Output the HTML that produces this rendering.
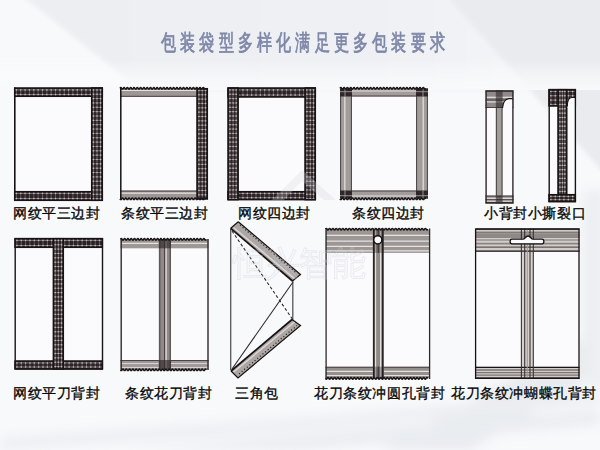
<!DOCTYPE html>
<html><head><meta charset="utf-8">
<style>
html,body{margin:0;padding:0;}
body{width:600px;height:450px;overflow:hidden;position:relative;background:#f6f7f9;font-family:"Liberation Sans",sans-serif;}
.bg{position:absolute;left:0;top:0;}
.t{position:absolute;white-space:nowrap;color:#050505;font-size:13.5px;line-height:14px;letter-spacing:0.6px;-webkit-text-stroke:0.32px #050505;}
.title{position:absolute;left:161px;top:30px;font-size:22px;line-height:25px;color:#7f87a9;white-space:nowrap;letter-spacing:5.95px;transform:scaleX(0.687);transform-origin:0 0;-webkit-text-stroke:0.8px #7f87a9;}
svg.fg{position:absolute;left:0;top:0;}
</style></head>
<body>
<svg class="bg" width="600" height="450" viewBox="0 0 600 450">
<defs><filter id="bl" x="-20%" y="-20%" width="140%" height="140%"><feGaussianBlur stdDeviation="2"/></filter>
<filter id="bl2" x="-20%" y="-20%" width="140%" height="140%"><feGaussianBlur stdDeviation="6"/></filter>
<linearGradient id="g1" x1="0" y1="0" x2="1" y2="0"><stop offset="0" stop-color="#eceef2"/><stop offset="0.75" stop-color="#eff1f4"/><stop offset="1" stop-color="#f4f5f8"/></linearGradient>
<linearGradient id="g2" x1="0" y1="0" x2="0" y2="1"><stop offset="0" stop-color="#ffffff" stop-opacity="0"/><stop offset="1" stop-color="#f8f9fb" stop-opacity="1"/></linearGradient></defs>
<rect width="600" height="450" fill="#f8f9fb"/>
<g filter="url(#bl)">
<polygon points="15,-10 441,-10 535,90 140,90" fill="url(#g1)"/>
<polygon points="441,-10 610,-10 610,180" fill="#e9ebef"/>
</g>
<rect x="0" y="60" width="600" height="30" fill="url(#g2)"/>
<g filter="url(#bl2)">
<polygon points="380,450 600,330 600,372 470,450" fill="#e8ebef"/>
<polygon points="0,438 300,418 600,392 600,404 300,430 0,450" fill="#eceef2"/>
<polygon points="120,450 600,410 600,425 300,450" fill="#eaedf1"/>
<polygon points="583,190 605,190 605,390 583,380" fill="#eceef2"/>
</g>
</svg>
<div class="title">包装袋型多样化满足更多包装要求</div>
<svg class="fg" width="600" height="450" viewBox="0 0 600 450"><rect x="14" y="87.5" width="89" height="113.5" fill="#fbfbfd"/><path d="M14.8 87.5V201" stroke="#171213" stroke-width="1.6" opacity="1"/><rect x="14" y="87.5" width="89" height="9.5" fill="#2a2224"/><path d="M16.4 88.5V96M20.75 88.5V96M25.1 88.5V96M29.45 88.5V96M33.8 88.5V96M38.15 88.5V96M42.5 88.5V96M46.85 88.5V96M51.2 88.5V96M55.55 88.5V96M59.9 88.5V96M64.25 88.5V96M68.6 88.5V96M72.95 88.5V96M77.3 88.5V96M81.65 88.5V96M86 88.5V96M90.35 88.5V96M94.7 88.5V96M99.05 88.5V96" stroke="#a8a0a0" stroke-width="1.0" fill="none" opacity="0.45"/><path d="M15 89.9H102M15 94.5H102" stroke="#a8a0a0" stroke-width="1.0" fill="none" opacity="0.62"/><g fill="#c4bcbc"><rect x="15.75" y="89.25" width="1.3" height="1.3"/><rect x="15.75" y="93.85" width="1.3" height="1.3"/><rect x="20.1" y="89.25" width="1.3" height="1.3"/><rect x="20.1" y="93.85" width="1.3" height="1.3"/><rect x="24.45" y="89.25" width="1.3" height="1.3"/><rect x="24.45" y="93.85" width="1.3" height="1.3"/><rect x="28.8" y="89.25" width="1.3" height="1.3"/><rect x="28.8" y="93.85" width="1.3" height="1.3"/><rect x="33.15" y="89.25" width="1.3" height="1.3"/><rect x="33.15" y="93.85" width="1.3" height="1.3"/><rect x="37.5" y="89.25" width="1.3" height="1.3"/><rect x="37.5" y="93.85" width="1.3" height="1.3"/><rect x="41.85" y="89.25" width="1.3" height="1.3"/><rect x="41.85" y="93.85" width="1.3" height="1.3"/><rect x="46.2" y="89.25" width="1.3" height="1.3"/><rect x="46.2" y="93.85" width="1.3" height="1.3"/><rect x="50.55" y="89.25" width="1.3" height="1.3"/><rect x="50.55" y="93.85" width="1.3" height="1.3"/><rect x="54.9" y="89.25" width="1.3" height="1.3"/><rect x="54.9" y="93.85" width="1.3" height="1.3"/><rect x="59.25" y="89.25" width="1.3" height="1.3"/><rect x="59.25" y="93.85" width="1.3" height="1.3"/><rect x="63.6" y="89.25" width="1.3" height="1.3"/><rect x="63.6" y="93.85" width="1.3" height="1.3"/><rect x="67.95" y="89.25" width="1.3" height="1.3"/><rect x="67.95" y="93.85" width="1.3" height="1.3"/><rect x="72.3" y="89.25" width="1.3" height="1.3"/><rect x="72.3" y="93.85" width="1.3" height="1.3"/><rect x="76.65" y="89.25" width="1.3" height="1.3"/><rect x="76.65" y="93.85" width="1.3" height="1.3"/><rect x="81" y="89.25" width="1.3" height="1.3"/><rect x="81" y="93.85" width="1.3" height="1.3"/><rect x="85.35" y="89.25" width="1.3" height="1.3"/><rect x="85.35" y="93.85" width="1.3" height="1.3"/><rect x="89.7" y="89.25" width="1.3" height="1.3"/><rect x="89.7" y="93.85" width="1.3" height="1.3"/><rect x="94.05" y="89.25" width="1.3" height="1.3"/><rect x="94.05" y="93.85" width="1.3" height="1.3"/><rect x="98.4" y="89.25" width="1.3" height="1.3"/><rect x="98.4" y="93.85" width="1.3" height="1.3"/></g><rect x="14.6" y="88.1" width="87.8" height="8.3" fill="none" stroke="#171213" stroke-width="1.3"/><rect x="14" y="191" width="89" height="10" fill="#2a2224"/><path d="M16.4 192V200M20.75 192V200M25.1 192V200M29.45 192V200M33.8 192V200M38.15 192V200M42.5 192V200M46.85 192V200M51.2 192V200M55.55 192V200M59.9 192V200M64.25 192V200M68.6 192V200M72.95 192V200M77.3 192V200M81.65 192V200M86 192V200M90.35 192V200M94.7 192V200M99.05 192V200" stroke="#a8a0a0" stroke-width="1.0" fill="none" opacity="0.45"/><path d="M15 193.4H102M15 198.5H102" stroke="#a8a0a0" stroke-width="1.0" fill="none" opacity="0.62"/><g fill="#c4bcbc"><rect x="15.75" y="192.75" width="1.3" height="1.3"/><rect x="15.75" y="197.85" width="1.3" height="1.3"/><rect x="20.1" y="192.75" width="1.3" height="1.3"/><rect x="20.1" y="197.85" width="1.3" height="1.3"/><rect x="24.45" y="192.75" width="1.3" height="1.3"/><rect x="24.45" y="197.85" width="1.3" height="1.3"/><rect x="28.8" y="192.75" width="1.3" height="1.3"/><rect x="28.8" y="197.85" width="1.3" height="1.3"/><rect x="33.15" y="192.75" width="1.3" height="1.3"/><rect x="33.15" y="197.85" width="1.3" height="1.3"/><rect x="37.5" y="192.75" width="1.3" height="1.3"/><rect x="37.5" y="197.85" width="1.3" height="1.3"/><rect x="41.85" y="192.75" width="1.3" height="1.3"/><rect x="41.85" y="197.85" width="1.3" height="1.3"/><rect x="46.2" y="192.75" width="1.3" height="1.3"/><rect x="46.2" y="197.85" width="1.3" height="1.3"/><rect x="50.55" y="192.75" width="1.3" height="1.3"/><rect x="50.55" y="197.85" width="1.3" height="1.3"/><rect x="54.9" y="192.75" width="1.3" height="1.3"/><rect x="54.9" y="197.85" width="1.3" height="1.3"/><rect x="59.25" y="192.75" width="1.3" height="1.3"/><rect x="59.25" y="197.85" width="1.3" height="1.3"/><rect x="63.6" y="192.75" width="1.3" height="1.3"/><rect x="63.6" y="197.85" width="1.3" height="1.3"/><rect x="67.95" y="192.75" width="1.3" height="1.3"/><rect x="67.95" y="197.85" width="1.3" height="1.3"/><rect x="72.3" y="192.75" width="1.3" height="1.3"/><rect x="72.3" y="197.85" width="1.3" height="1.3"/><rect x="76.65" y="192.75" width="1.3" height="1.3"/><rect x="76.65" y="197.85" width="1.3" height="1.3"/><rect x="81" y="192.75" width="1.3" height="1.3"/><rect x="81" y="197.85" width="1.3" height="1.3"/><rect x="85.35" y="192.75" width="1.3" height="1.3"/><rect x="85.35" y="197.85" width="1.3" height="1.3"/><rect x="89.7" y="192.75" width="1.3" height="1.3"/><rect x="89.7" y="197.85" width="1.3" height="1.3"/><rect x="94.05" y="192.75" width="1.3" height="1.3"/><rect x="94.05" y="197.85" width="1.3" height="1.3"/><rect x="98.4" y="192.75" width="1.3" height="1.3"/><rect x="98.4" y="197.85" width="1.3" height="1.3"/></g><rect x="14.6" y="191.6" width="87.8" height="8.8" fill="none" stroke="#171213" stroke-width="1.3"/><rect x="91" y="87.5" width="12" height="113.5" fill="#2a2224"/><path d="M93.4 88.5V200M97 88.5V200M100.5 88.5V200" stroke="#a8a0a0" stroke-width="1.0" fill="none" opacity="0.55"/><path d="M92 89.9H102M92 94.25H102M92 98.6H102M92 102.95H102M92 107.3H102M92 111.65H102M92 116H102M92 120.35H102M92 124.7H102M92 129.05H102M92 133.4H102M92 137.75H102M92 142.1H102M92 146.45H102M92 150.8H102M92 155.15H102M92 159.5H102M92 163.85H102M92 168.2H102M92 172.55H102M92 176.9H102M92 181.25H102M92 185.6H102M92 189.95H102M92 194.3H102M92 198.65H102" stroke="#a8a0a0" stroke-width="1.0" fill="none" opacity="0.5"/><g fill="#c4bcbc"><rect x="92.75" y="89.25" width="1.3" height="1.3"/><rect x="92.75" y="93.6" width="1.3" height="1.3"/><rect x="92.75" y="97.95" width="1.3" height="1.3"/><rect x="92.75" y="102.3" width="1.3" height="1.3"/><rect x="92.75" y="106.65" width="1.3" height="1.3"/><rect x="92.75" y="111" width="1.3" height="1.3"/><rect x="92.75" y="115.35" width="1.3" height="1.3"/><rect x="92.75" y="119.7" width="1.3" height="1.3"/><rect x="92.75" y="124.05" width="1.3" height="1.3"/><rect x="92.75" y="128.4" width="1.3" height="1.3"/><rect x="92.75" y="132.75" width="1.3" height="1.3"/><rect x="92.75" y="137.1" width="1.3" height="1.3"/><rect x="92.75" y="141.45" width="1.3" height="1.3"/><rect x="92.75" y="145.8" width="1.3" height="1.3"/><rect x="92.75" y="150.15" width="1.3" height="1.3"/><rect x="92.75" y="154.5" width="1.3" height="1.3"/><rect x="92.75" y="158.85" width="1.3" height="1.3"/><rect x="92.75" y="163.2" width="1.3" height="1.3"/><rect x="92.75" y="167.55" width="1.3" height="1.3"/><rect x="92.75" y="171.9" width="1.3" height="1.3"/><rect x="92.75" y="176.25" width="1.3" height="1.3"/><rect x="92.75" y="180.6" width="1.3" height="1.3"/><rect x="92.75" y="184.95" width="1.3" height="1.3"/><rect x="92.75" y="189.3" width="1.3" height="1.3"/><rect x="92.75" y="193.65" width="1.3" height="1.3"/><rect x="92.75" y="198" width="1.3" height="1.3"/><rect x="96.35" y="89.25" width="1.3" height="1.3"/><rect x="96.35" y="93.6" width="1.3" height="1.3"/><rect x="96.35" y="97.95" width="1.3" height="1.3"/><rect x="96.35" y="102.3" width="1.3" height="1.3"/><rect x="96.35" y="106.65" width="1.3" height="1.3"/><rect x="96.35" y="111" width="1.3" height="1.3"/><rect x="96.35" y="115.35" width="1.3" height="1.3"/><rect x="96.35" y="119.7" width="1.3" height="1.3"/><rect x="96.35" y="124.05" width="1.3" height="1.3"/><rect x="96.35" y="128.4" width="1.3" height="1.3"/><rect x="96.35" y="132.75" width="1.3" height="1.3"/><rect x="96.35" y="137.1" width="1.3" height="1.3"/><rect x="96.35" y="141.45" width="1.3" height="1.3"/><rect x="96.35" y="145.8" width="1.3" height="1.3"/><rect x="96.35" y="150.15" width="1.3" height="1.3"/><rect x="96.35" y="154.5" width="1.3" height="1.3"/><rect x="96.35" y="158.85" width="1.3" height="1.3"/><rect x="96.35" y="163.2" width="1.3" height="1.3"/><rect x="96.35" y="167.55" width="1.3" height="1.3"/><rect x="96.35" y="171.9" width="1.3" height="1.3"/><rect x="96.35" y="176.25" width="1.3" height="1.3"/><rect x="96.35" y="180.6" width="1.3" height="1.3"/><rect x="96.35" y="184.95" width="1.3" height="1.3"/><rect x="96.35" y="189.3" width="1.3" height="1.3"/><rect x="96.35" y="193.65" width="1.3" height="1.3"/><rect x="96.35" y="198" width="1.3" height="1.3"/><rect x="99.85" y="89.25" width="1.3" height="1.3"/><rect x="99.85" y="93.6" width="1.3" height="1.3"/><rect x="99.85" y="97.95" width="1.3" height="1.3"/><rect x="99.85" y="102.3" width="1.3" height="1.3"/><rect x="99.85" y="106.65" width="1.3" height="1.3"/><rect x="99.85" y="111" width="1.3" height="1.3"/><rect x="99.85" y="115.35" width="1.3" height="1.3"/><rect x="99.85" y="119.7" width="1.3" height="1.3"/><rect x="99.85" y="124.05" width="1.3" height="1.3"/><rect x="99.85" y="128.4" width="1.3" height="1.3"/><rect x="99.85" y="132.75" width="1.3" height="1.3"/><rect x="99.85" y="137.1" width="1.3" height="1.3"/><rect x="99.85" y="141.45" width="1.3" height="1.3"/><rect x="99.85" y="145.8" width="1.3" height="1.3"/><rect x="99.85" y="150.15" width="1.3" height="1.3"/><rect x="99.85" y="154.5" width="1.3" height="1.3"/><rect x="99.85" y="158.85" width="1.3" height="1.3"/><rect x="99.85" y="163.2" width="1.3" height="1.3"/><rect x="99.85" y="167.55" width="1.3" height="1.3"/><rect x="99.85" y="171.9" width="1.3" height="1.3"/><rect x="99.85" y="176.25" width="1.3" height="1.3"/><rect x="99.85" y="180.6" width="1.3" height="1.3"/><rect x="99.85" y="184.95" width="1.3" height="1.3"/><rect x="99.85" y="189.3" width="1.3" height="1.3"/><rect x="99.85" y="193.65" width="1.3" height="1.3"/><rect x="99.85" y="198" width="1.3" height="1.3"/></g><rect x="91.6" y="88.1" width="10.8" height="112.3" fill="none" stroke="#171213" stroke-width="1.3"/><rect x="120" y="88" width="88" height="111.5" fill="#fbfbfd"/><rect x="120" y="88.5" width="77" height="8.5" fill="#9c9694"/><path d="M120 90.5H197" stroke="#e6e2e2" stroke-width="1.2" opacity="1"/><path d="M120 96.3H197" stroke="#4a4244" stroke-width="1.0" opacity="1"/><rect x="120" y="190.5" width="77" height="8.5" fill="#9c9694"/><path d="M120 193.1H197" stroke="#e6e2e2" stroke-width="1.2" opacity="1"/><path d="M120 191.1H197" stroke="#4a4244" stroke-width="1.0" opacity="1"/><path d="M120.8 88V199.5" stroke="#171213" stroke-width="1.5" opacity="1"/><rect x="196.5" y="88" width="11.5" height="111.5" fill="#2a2224"/><path d="M198.9 89V198.5M202.25 89V198.5M205.5 89V198.5" stroke="#a8a0a0" stroke-width="1.0" fill="none" opacity="0.55"/><path d="M197.5 90.4H207M197.5 94.75H207M197.5 99.1H207M197.5 103.45H207M197.5 107.8H207M197.5 112.15H207M197.5 116.5H207M197.5 120.85H207M197.5 125.2H207M197.5 129.55H207M197.5 133.9H207M197.5 138.25H207M197.5 142.6H207M197.5 146.95H207M197.5 151.3H207M197.5 155.65H207M197.5 160H207M197.5 164.35H207M197.5 168.7H207M197.5 173.05H207M197.5 177.4H207M197.5 181.75H207M197.5 186.1H207M197.5 190.45H207M197.5 194.8H207" stroke="#a8a0a0" stroke-width="1.0" fill="none" opacity="0.5"/><g fill="#c4bcbc"><rect x="198.25" y="89.75" width="1.3" height="1.3"/><rect x="198.25" y="94.1" width="1.3" height="1.3"/><rect x="198.25" y="98.45" width="1.3" height="1.3"/><rect x="198.25" y="102.8" width="1.3" height="1.3"/><rect x="198.25" y="107.15" width="1.3" height="1.3"/><rect x="198.25" y="111.5" width="1.3" height="1.3"/><rect x="198.25" y="115.85" width="1.3" height="1.3"/><rect x="198.25" y="120.2" width="1.3" height="1.3"/><rect x="198.25" y="124.55" width="1.3" height="1.3"/><rect x="198.25" y="128.9" width="1.3" height="1.3"/><rect x="198.25" y="133.25" width="1.3" height="1.3"/><rect x="198.25" y="137.6" width="1.3" height="1.3"/><rect x="198.25" y="141.95" width="1.3" height="1.3"/><rect x="198.25" y="146.3" width="1.3" height="1.3"/><rect x="198.25" y="150.65" width="1.3" height="1.3"/><rect x="198.25" y="155" width="1.3" height="1.3"/><rect x="198.25" y="159.35" width="1.3" height="1.3"/><rect x="198.25" y="163.7" width="1.3" height="1.3"/><rect x="198.25" y="168.05" width="1.3" height="1.3"/><rect x="198.25" y="172.4" width="1.3" height="1.3"/><rect x="198.25" y="176.75" width="1.3" height="1.3"/><rect x="198.25" y="181.1" width="1.3" height="1.3"/><rect x="198.25" y="185.45" width="1.3" height="1.3"/><rect x="198.25" y="189.8" width="1.3" height="1.3"/><rect x="198.25" y="194.15" width="1.3" height="1.3"/><rect x="201.6" y="89.75" width="1.3" height="1.3"/><rect x="201.6" y="94.1" width="1.3" height="1.3"/><rect x="201.6" y="98.45" width="1.3" height="1.3"/><rect x="201.6" y="102.8" width="1.3" height="1.3"/><rect x="201.6" y="107.15" width="1.3" height="1.3"/><rect x="201.6" y="111.5" width="1.3" height="1.3"/><rect x="201.6" y="115.85" width="1.3" height="1.3"/><rect x="201.6" y="120.2" width="1.3" height="1.3"/><rect x="201.6" y="124.55" width="1.3" height="1.3"/><rect x="201.6" y="128.9" width="1.3" height="1.3"/><rect x="201.6" y="133.25" width="1.3" height="1.3"/><rect x="201.6" y="137.6" width="1.3" height="1.3"/><rect x="201.6" y="141.95" width="1.3" height="1.3"/><rect x="201.6" y="146.3" width="1.3" height="1.3"/><rect x="201.6" y="150.65" width="1.3" height="1.3"/><rect x="201.6" y="155" width="1.3" height="1.3"/><rect x="201.6" y="159.35" width="1.3" height="1.3"/><rect x="201.6" y="163.7" width="1.3" height="1.3"/><rect x="201.6" y="168.05" width="1.3" height="1.3"/><rect x="201.6" y="172.4" width="1.3" height="1.3"/><rect x="201.6" y="176.75" width="1.3" height="1.3"/><rect x="201.6" y="181.1" width="1.3" height="1.3"/><rect x="201.6" y="185.45" width="1.3" height="1.3"/><rect x="201.6" y="189.8" width="1.3" height="1.3"/><rect x="201.6" y="194.15" width="1.3" height="1.3"/><rect x="204.85" y="89.75" width="1.3" height="1.3"/><rect x="204.85" y="94.1" width="1.3" height="1.3"/><rect x="204.85" y="98.45" width="1.3" height="1.3"/><rect x="204.85" y="102.8" width="1.3" height="1.3"/><rect x="204.85" y="107.15" width="1.3" height="1.3"/><rect x="204.85" y="111.5" width="1.3" height="1.3"/><rect x="204.85" y="115.85" width="1.3" height="1.3"/><rect x="204.85" y="120.2" width="1.3" height="1.3"/><rect x="204.85" y="124.55" width="1.3" height="1.3"/><rect x="204.85" y="128.9" width="1.3" height="1.3"/><rect x="204.85" y="133.25" width="1.3" height="1.3"/><rect x="204.85" y="137.6" width="1.3" height="1.3"/><rect x="204.85" y="141.95" width="1.3" height="1.3"/><rect x="204.85" y="146.3" width="1.3" height="1.3"/><rect x="204.85" y="150.65" width="1.3" height="1.3"/><rect x="204.85" y="155" width="1.3" height="1.3"/><rect x="204.85" y="159.35" width="1.3" height="1.3"/><rect x="204.85" y="163.7" width="1.3" height="1.3"/><rect x="204.85" y="168.05" width="1.3" height="1.3"/><rect x="204.85" y="172.4" width="1.3" height="1.3"/><rect x="204.85" y="176.75" width="1.3" height="1.3"/><rect x="204.85" y="181.1" width="1.3" height="1.3"/><rect x="204.85" y="185.45" width="1.3" height="1.3"/><rect x="204.85" y="189.8" width="1.3" height="1.3"/><rect x="204.85" y="194.15" width="1.3" height="1.3"/></g><rect x="197.1" y="88.6" width="10.3" height="110.3" fill="none" stroke="#171213" stroke-width="1.3"/><path d="M120 88.3Q120.83 86.7 121.65 88.3T123.3 88.3Q124.12 86.7 124.95 88.3T126.6 88.3Q127.42 86.7 128.25 88.3T129.9 88.3Q130.72 86.7 131.55 88.3T133.2 88.3Q134.03 86.7 134.85 88.3T136.5 88.3Q137.33 86.7 138.15 88.3T139.8 88.3Q140.63 86.7 141.45 88.3T143.1 88.3Q143.93 86.7 144.75 88.3T146.4 88.3Q147.23 86.7 148.05 88.3T149.7 88.3Q150.53 86.7 151.35 88.3T153 88.3Q153.83 86.7 154.65 88.3T156.3 88.3Q157.13 86.7 157.95 88.3T159.6 88.3Q160.43 86.7 161.25 88.3T162.9 88.3Q163.73 86.7 164.55 88.3T166.2 88.3Q167.03 86.7 167.85 88.3T169.5 88.3Q170.33 86.7 171.15 88.3T172.8 88.3Q173.63 86.7 174.45 88.3T176.1 88.3Q176.93 86.7 177.75 88.3T179.4 88.3Q180.23 86.7 181.05 88.3T182.7 88.3Q183.53 86.7 184.35 88.3T186 88.3Q186.83 86.7 187.65 88.3T189.3 88.3Q190.13 86.7 190.95 88.3T192.6 88.3Q193.43 86.7 194.25 88.3T195.9 88.3Q196.73 86.7 197.55 88.3T199.2 88.3Q200.03 86.7 200.85 88.3T202.5 88.3Q203.33 86.7 204.15 88.3T205.8 88.3" stroke="#1a1516" stroke-width="1.5" fill="none"/><path d="M120 198.8Q120.83 200.4 121.65 198.8T123.3 198.8Q124.12 200.4 124.95 198.8T126.6 198.8Q127.42 200.4 128.25 198.8T129.9 198.8Q130.72 200.4 131.55 198.8T133.2 198.8Q134.03 200.4 134.85 198.8T136.5 198.8Q137.33 200.4 138.15 198.8T139.8 198.8Q140.63 200.4 141.45 198.8T143.1 198.8Q143.93 200.4 144.75 198.8T146.4 198.8Q147.23 200.4 148.05 198.8T149.7 198.8Q150.53 200.4 151.35 198.8T153 198.8Q153.83 200.4 154.65 198.8T156.3 198.8Q157.13 200.4 157.95 198.8T159.6 198.8Q160.43 200.4 161.25 198.8T162.9 198.8Q163.73 200.4 164.55 198.8T166.2 198.8Q167.03 200.4 167.85 198.8T169.5 198.8Q170.33 200.4 171.15 198.8T172.8 198.8Q173.63 200.4 174.45 198.8T176.1 198.8Q176.93 200.4 177.75 198.8T179.4 198.8Q180.23 200.4 181.05 198.8T182.7 198.8Q183.53 200.4 184.35 198.8T186 198.8Q186.83 200.4 187.65 198.8T189.3 198.8Q190.13 200.4 190.95 198.8T192.6 198.8Q193.43 200.4 194.25 198.8T195.9 198.8Q196.73 200.4 197.55 198.8T199.2 198.8Q200.03 200.4 200.85 198.8T202.5 198.8Q203.33 200.4 204.15 198.8T205.8 198.8" stroke="#1a1516" stroke-width="1.5" fill="none"/><rect x="227.5" y="87.5" width="88.5" height="112.5" fill="#fbfbfd"/><rect x="227.5" y="87.5" width="88.5" height="10" fill="#2a2224"/><path d="M229.9 88.5V96.5M234.25 88.5V96.5M238.6 88.5V96.5M242.95 88.5V96.5M247.3 88.5V96.5M251.65 88.5V96.5M256 88.5V96.5M260.35 88.5V96.5M264.7 88.5V96.5M269.05 88.5V96.5M273.4 88.5V96.5M277.75 88.5V96.5M282.1 88.5V96.5M286.45 88.5V96.5M290.8 88.5V96.5M295.15 88.5V96.5M299.5 88.5V96.5M303.85 88.5V96.5M308.2 88.5V96.5M312.55 88.5V96.5" stroke="#a8a0a0" stroke-width="1.0" fill="none" opacity="0.45"/><path d="M228.5 89.9H315M228.5 95H315" stroke="#a8a0a0" stroke-width="1.0" fill="none" opacity="0.62"/><g fill="#c4bcbc"><rect x="229.25" y="89.25" width="1.3" height="1.3"/><rect x="229.25" y="94.35" width="1.3" height="1.3"/><rect x="233.6" y="89.25" width="1.3" height="1.3"/><rect x="233.6" y="94.35" width="1.3" height="1.3"/><rect x="237.95" y="89.25" width="1.3" height="1.3"/><rect x="237.95" y="94.35" width="1.3" height="1.3"/><rect x="242.3" y="89.25" width="1.3" height="1.3"/><rect x="242.3" y="94.35" width="1.3" height="1.3"/><rect x="246.65" y="89.25" width="1.3" height="1.3"/><rect x="246.65" y="94.35" width="1.3" height="1.3"/><rect x="251" y="89.25" width="1.3" height="1.3"/><rect x="251" y="94.35" width="1.3" height="1.3"/><rect x="255.35" y="89.25" width="1.3" height="1.3"/><rect x="255.35" y="94.35" width="1.3" height="1.3"/><rect x="259.7" y="89.25" width="1.3" height="1.3"/><rect x="259.7" y="94.35" width="1.3" height="1.3"/><rect x="264.05" y="89.25" width="1.3" height="1.3"/><rect x="264.05" y="94.35" width="1.3" height="1.3"/><rect x="268.4" y="89.25" width="1.3" height="1.3"/><rect x="268.4" y="94.35" width="1.3" height="1.3"/><rect x="272.75" y="89.25" width="1.3" height="1.3"/><rect x="272.75" y="94.35" width="1.3" height="1.3"/><rect x="277.1" y="89.25" width="1.3" height="1.3"/><rect x="277.1" y="94.35" width="1.3" height="1.3"/><rect x="281.45" y="89.25" width="1.3" height="1.3"/><rect x="281.45" y="94.35" width="1.3" height="1.3"/><rect x="285.8" y="89.25" width="1.3" height="1.3"/><rect x="285.8" y="94.35" width="1.3" height="1.3"/><rect x="290.15" y="89.25" width="1.3" height="1.3"/><rect x="290.15" y="94.35" width="1.3" height="1.3"/><rect x="294.5" y="89.25" width="1.3" height="1.3"/><rect x="294.5" y="94.35" width="1.3" height="1.3"/><rect x="298.85" y="89.25" width="1.3" height="1.3"/><rect x="298.85" y="94.35" width="1.3" height="1.3"/><rect x="303.2" y="89.25" width="1.3" height="1.3"/><rect x="303.2" y="94.35" width="1.3" height="1.3"/><rect x="307.55" y="89.25" width="1.3" height="1.3"/><rect x="307.55" y="94.35" width="1.3" height="1.3"/><rect x="311.9" y="89.25" width="1.3" height="1.3"/><rect x="311.9" y="94.35" width="1.3" height="1.3"/></g><rect x="228.1" y="88.1" width="87.3" height="8.8" fill="none" stroke="#171213" stroke-width="1.3"/><rect x="227.5" y="191" width="88.5" height="9.2" fill="#2a2224"/><path d="M229.9 192V199.2M234.25 192V199.2M238.6 192V199.2M242.95 192V199.2M247.3 192V199.2M251.65 192V199.2M256 192V199.2M260.35 192V199.2M264.7 192V199.2M269.05 192V199.2M273.4 192V199.2M277.75 192V199.2M282.1 192V199.2M286.45 192V199.2M290.8 192V199.2M295.15 192V199.2M299.5 192V199.2M303.85 192V199.2M308.2 192V199.2M312.55 192V199.2" stroke="#a8a0a0" stroke-width="1.0" fill="none" opacity="0.45"/><path d="M228.5 193.4H315M228.5 197.7H315" stroke="#a8a0a0" stroke-width="1.0" fill="none" opacity="0.62"/><g fill="#c4bcbc"><rect x="229.25" y="192.75" width="1.3" height="1.3"/><rect x="229.25" y="197.05" width="1.3" height="1.3"/><rect x="233.6" y="192.75" width="1.3" height="1.3"/><rect x="233.6" y="197.05" width="1.3" height="1.3"/><rect x="237.95" y="192.75" width="1.3" height="1.3"/><rect x="237.95" y="197.05" width="1.3" height="1.3"/><rect x="242.3" y="192.75" width="1.3" height="1.3"/><rect x="242.3" y="197.05" width="1.3" height="1.3"/><rect x="246.65" y="192.75" width="1.3" height="1.3"/><rect x="246.65" y="197.05" width="1.3" height="1.3"/><rect x="251" y="192.75" width="1.3" height="1.3"/><rect x="251" y="197.05" width="1.3" height="1.3"/><rect x="255.35" y="192.75" width="1.3" height="1.3"/><rect x="255.35" y="197.05" width="1.3" height="1.3"/><rect x="259.7" y="192.75" width="1.3" height="1.3"/><rect x="259.7" y="197.05" width="1.3" height="1.3"/><rect x="264.05" y="192.75" width="1.3" height="1.3"/><rect x="264.05" y="197.05" width="1.3" height="1.3"/><rect x="268.4" y="192.75" width="1.3" height="1.3"/><rect x="268.4" y="197.05" width="1.3" height="1.3"/><rect x="272.75" y="192.75" width="1.3" height="1.3"/><rect x="272.75" y="197.05" width="1.3" height="1.3"/><rect x="277.1" y="192.75" width="1.3" height="1.3"/><rect x="277.1" y="197.05" width="1.3" height="1.3"/><rect x="281.45" y="192.75" width="1.3" height="1.3"/><rect x="281.45" y="197.05" width="1.3" height="1.3"/><rect x="285.8" y="192.75" width="1.3" height="1.3"/><rect x="285.8" y="197.05" width="1.3" height="1.3"/><rect x="290.15" y="192.75" width="1.3" height="1.3"/><rect x="290.15" y="197.05" width="1.3" height="1.3"/><rect x="294.5" y="192.75" width="1.3" height="1.3"/><rect x="294.5" y="197.05" width="1.3" height="1.3"/><rect x="298.85" y="192.75" width="1.3" height="1.3"/><rect x="298.85" y="197.05" width="1.3" height="1.3"/><rect x="303.2" y="192.75" width="1.3" height="1.3"/><rect x="303.2" y="197.05" width="1.3" height="1.3"/><rect x="307.55" y="192.75" width="1.3" height="1.3"/><rect x="307.55" y="197.05" width="1.3" height="1.3"/><rect x="311.9" y="192.75" width="1.3" height="1.3"/><rect x="311.9" y="197.05" width="1.3" height="1.3"/></g><rect x="228.1" y="191.6" width="87.3" height="8" fill="none" stroke="#171213" stroke-width="1.3"/><rect x="227.5" y="87.5" width="11.2" height="112.7" fill="#2a2224"/><path d="M229.9 88.5V199.2M233.1 88.5V199.2M236.2 88.5V199.2" stroke="#a8a0a0" stroke-width="1.0" fill="none" opacity="0.55"/><path d="M228.5 89.9H237.7M228.5 94.25H237.7M228.5 98.6H237.7M228.5 102.95H237.7M228.5 107.3H237.7M228.5 111.65H237.7M228.5 116H237.7M228.5 120.35H237.7M228.5 124.7H237.7M228.5 129.05H237.7M228.5 133.4H237.7M228.5 137.75H237.7M228.5 142.1H237.7M228.5 146.45H237.7M228.5 150.8H237.7M228.5 155.15H237.7M228.5 159.5H237.7M228.5 163.85H237.7M228.5 168.2H237.7M228.5 172.55H237.7M228.5 176.9H237.7M228.5 181.25H237.7M228.5 185.6H237.7M228.5 189.95H237.7M228.5 194.3H237.7M228.5 198.65H237.7" stroke="#a8a0a0" stroke-width="1.0" fill="none" opacity="0.5"/><g fill="#c4bcbc"><rect x="229.25" y="89.25" width="1.3" height="1.3"/><rect x="229.25" y="93.6" width="1.3" height="1.3"/><rect x="229.25" y="97.95" width="1.3" height="1.3"/><rect x="229.25" y="102.3" width="1.3" height="1.3"/><rect x="229.25" y="106.65" width="1.3" height="1.3"/><rect x="229.25" y="111" width="1.3" height="1.3"/><rect x="229.25" y="115.35" width="1.3" height="1.3"/><rect x="229.25" y="119.7" width="1.3" height="1.3"/><rect x="229.25" y="124.05" width="1.3" height="1.3"/><rect x="229.25" y="128.4" width="1.3" height="1.3"/><rect x="229.25" y="132.75" width="1.3" height="1.3"/><rect x="229.25" y="137.1" width="1.3" height="1.3"/><rect x="229.25" y="141.45" width="1.3" height="1.3"/><rect x="229.25" y="145.8" width="1.3" height="1.3"/><rect x="229.25" y="150.15" width="1.3" height="1.3"/><rect x="229.25" y="154.5" width="1.3" height="1.3"/><rect x="229.25" y="158.85" width="1.3" height="1.3"/><rect x="229.25" y="163.2" width="1.3" height="1.3"/><rect x="229.25" y="167.55" width="1.3" height="1.3"/><rect x="229.25" y="171.9" width="1.3" height="1.3"/><rect x="229.25" y="176.25" width="1.3" height="1.3"/><rect x="229.25" y="180.6" width="1.3" height="1.3"/><rect x="229.25" y="184.95" width="1.3" height="1.3"/><rect x="229.25" y="189.3" width="1.3" height="1.3"/><rect x="229.25" y="193.65" width="1.3" height="1.3"/><rect x="229.25" y="198" width="1.3" height="1.3"/><rect x="232.45" y="89.25" width="1.3" height="1.3"/><rect x="232.45" y="93.6" width="1.3" height="1.3"/><rect x="232.45" y="97.95" width="1.3" height="1.3"/><rect x="232.45" y="102.3" width="1.3" height="1.3"/><rect x="232.45" y="106.65" width="1.3" height="1.3"/><rect x="232.45" y="111" width="1.3" height="1.3"/><rect x="232.45" y="115.35" width="1.3" height="1.3"/><rect x="232.45" y="119.7" width="1.3" height="1.3"/><rect x="232.45" y="124.05" width="1.3" height="1.3"/><rect x="232.45" y="128.4" width="1.3" height="1.3"/><rect x="232.45" y="132.75" width="1.3" height="1.3"/><rect x="232.45" y="137.1" width="1.3" height="1.3"/><rect x="232.45" y="141.45" width="1.3" height="1.3"/><rect x="232.45" y="145.8" width="1.3" height="1.3"/><rect x="232.45" y="150.15" width="1.3" height="1.3"/><rect x="232.45" y="154.5" width="1.3" height="1.3"/><rect x="232.45" y="158.85" width="1.3" height="1.3"/><rect x="232.45" y="163.2" width="1.3" height="1.3"/><rect x="232.45" y="167.55" width="1.3" height="1.3"/><rect x="232.45" y="171.9" width="1.3" height="1.3"/><rect x="232.45" y="176.25" width="1.3" height="1.3"/><rect x="232.45" y="180.6" width="1.3" height="1.3"/><rect x="232.45" y="184.95" width="1.3" height="1.3"/><rect x="232.45" y="189.3" width="1.3" height="1.3"/><rect x="232.45" y="193.65" width="1.3" height="1.3"/><rect x="232.45" y="198" width="1.3" height="1.3"/><rect x="235.55" y="89.25" width="1.3" height="1.3"/><rect x="235.55" y="93.6" width="1.3" height="1.3"/><rect x="235.55" y="97.95" width="1.3" height="1.3"/><rect x="235.55" y="102.3" width="1.3" height="1.3"/><rect x="235.55" y="106.65" width="1.3" height="1.3"/><rect x="235.55" y="111" width="1.3" height="1.3"/><rect x="235.55" y="115.35" width="1.3" height="1.3"/><rect x="235.55" y="119.7" width="1.3" height="1.3"/><rect x="235.55" y="124.05" width="1.3" height="1.3"/><rect x="235.55" y="128.4" width="1.3" height="1.3"/><rect x="235.55" y="132.75" width="1.3" height="1.3"/><rect x="235.55" y="137.1" width="1.3" height="1.3"/><rect x="235.55" y="141.45" width="1.3" height="1.3"/><rect x="235.55" y="145.8" width="1.3" height="1.3"/><rect x="235.55" y="150.15" width="1.3" height="1.3"/><rect x="235.55" y="154.5" width="1.3" height="1.3"/><rect x="235.55" y="158.85" width="1.3" height="1.3"/><rect x="235.55" y="163.2" width="1.3" height="1.3"/><rect x="235.55" y="167.55" width="1.3" height="1.3"/><rect x="235.55" y="171.9" width="1.3" height="1.3"/><rect x="235.55" y="176.25" width="1.3" height="1.3"/><rect x="235.55" y="180.6" width="1.3" height="1.3"/><rect x="235.55" y="184.95" width="1.3" height="1.3"/><rect x="235.55" y="189.3" width="1.3" height="1.3"/><rect x="235.55" y="193.65" width="1.3" height="1.3"/><rect x="235.55" y="198" width="1.3" height="1.3"/></g><rect x="228.1" y="88.1" width="10" height="111.5" fill="none" stroke="#171213" stroke-width="1.3"/><rect x="304.5" y="87.5" width="11.5" height="112.7" fill="#2a2224"/><path d="M306.9 88.5V199.2M310.25 88.5V199.2M313.5 88.5V199.2" stroke="#a8a0a0" stroke-width="1.0" fill="none" opacity="0.55"/><path d="M305.5 89.9H315M305.5 94.25H315M305.5 98.6H315M305.5 102.95H315M305.5 107.3H315M305.5 111.65H315M305.5 116H315M305.5 120.35H315M305.5 124.7H315M305.5 129.05H315M305.5 133.4H315M305.5 137.75H315M305.5 142.1H315M305.5 146.45H315M305.5 150.8H315M305.5 155.15H315M305.5 159.5H315M305.5 163.85H315M305.5 168.2H315M305.5 172.55H315M305.5 176.9H315M305.5 181.25H315M305.5 185.6H315M305.5 189.95H315M305.5 194.3H315M305.5 198.65H315" stroke="#a8a0a0" stroke-width="1.0" fill="none" opacity="0.5"/><g fill="#c4bcbc"><rect x="306.25" y="89.25" width="1.3" height="1.3"/><rect x="306.25" y="93.6" width="1.3" height="1.3"/><rect x="306.25" y="97.95" width="1.3" height="1.3"/><rect x="306.25" y="102.3" width="1.3" height="1.3"/><rect x="306.25" y="106.65" width="1.3" height="1.3"/><rect x="306.25" y="111" width="1.3" height="1.3"/><rect x="306.25" y="115.35" width="1.3" height="1.3"/><rect x="306.25" y="119.7" width="1.3" height="1.3"/><rect x="306.25" y="124.05" width="1.3" height="1.3"/><rect x="306.25" y="128.4" width="1.3" height="1.3"/><rect x="306.25" y="132.75" width="1.3" height="1.3"/><rect x="306.25" y="137.1" width="1.3" height="1.3"/><rect x="306.25" y="141.45" width="1.3" height="1.3"/><rect x="306.25" y="145.8" width="1.3" height="1.3"/><rect x="306.25" y="150.15" width="1.3" height="1.3"/><rect x="306.25" y="154.5" width="1.3" height="1.3"/><rect x="306.25" y="158.85" width="1.3" height="1.3"/><rect x="306.25" y="163.2" width="1.3" height="1.3"/><rect x="306.25" y="167.55" width="1.3" height="1.3"/><rect x="306.25" y="171.9" width="1.3" height="1.3"/><rect x="306.25" y="176.25" width="1.3" height="1.3"/><rect x="306.25" y="180.6" width="1.3" height="1.3"/><rect x="306.25" y="184.95" width="1.3" height="1.3"/><rect x="306.25" y="189.3" width="1.3" height="1.3"/><rect x="306.25" y="193.65" width="1.3" height="1.3"/><rect x="306.25" y="198" width="1.3" height="1.3"/><rect x="309.6" y="89.25" width="1.3" height="1.3"/><rect x="309.6" y="93.6" width="1.3" height="1.3"/><rect x="309.6" y="97.95" width="1.3" height="1.3"/><rect x="309.6" y="102.3" width="1.3" height="1.3"/><rect x="309.6" y="106.65" width="1.3" height="1.3"/><rect x="309.6" y="111" width="1.3" height="1.3"/><rect x="309.6" y="115.35" width="1.3" height="1.3"/><rect x="309.6" y="119.7" width="1.3" height="1.3"/><rect x="309.6" y="124.05" width="1.3" height="1.3"/><rect x="309.6" y="128.4" width="1.3" height="1.3"/><rect x="309.6" y="132.75" width="1.3" height="1.3"/><rect x="309.6" y="137.1" width="1.3" height="1.3"/><rect x="309.6" y="141.45" width="1.3" height="1.3"/><rect x="309.6" y="145.8" width="1.3" height="1.3"/><rect x="309.6" y="150.15" width="1.3" height="1.3"/><rect x="309.6" y="154.5" width="1.3" height="1.3"/><rect x="309.6" y="158.85" width="1.3" height="1.3"/><rect x="309.6" y="163.2" width="1.3" height="1.3"/><rect x="309.6" y="167.55" width="1.3" height="1.3"/><rect x="309.6" y="171.9" width="1.3" height="1.3"/><rect x="309.6" y="176.25" width="1.3" height="1.3"/><rect x="309.6" y="180.6" width="1.3" height="1.3"/><rect x="309.6" y="184.95" width="1.3" height="1.3"/><rect x="309.6" y="189.3" width="1.3" height="1.3"/><rect x="309.6" y="193.65" width="1.3" height="1.3"/><rect x="309.6" y="198" width="1.3" height="1.3"/><rect x="312.85" y="89.25" width="1.3" height="1.3"/><rect x="312.85" y="93.6" width="1.3" height="1.3"/><rect x="312.85" y="97.95" width="1.3" height="1.3"/><rect x="312.85" y="102.3" width="1.3" height="1.3"/><rect x="312.85" y="106.65" width="1.3" height="1.3"/><rect x="312.85" y="111" width="1.3" height="1.3"/><rect x="312.85" y="115.35" width="1.3" height="1.3"/><rect x="312.85" y="119.7" width="1.3" height="1.3"/><rect x="312.85" y="124.05" width="1.3" height="1.3"/><rect x="312.85" y="128.4" width="1.3" height="1.3"/><rect x="312.85" y="132.75" width="1.3" height="1.3"/><rect x="312.85" y="137.1" width="1.3" height="1.3"/><rect x="312.85" y="141.45" width="1.3" height="1.3"/><rect x="312.85" y="145.8" width="1.3" height="1.3"/><rect x="312.85" y="150.15" width="1.3" height="1.3"/><rect x="312.85" y="154.5" width="1.3" height="1.3"/><rect x="312.85" y="158.85" width="1.3" height="1.3"/><rect x="312.85" y="163.2" width="1.3" height="1.3"/><rect x="312.85" y="167.55" width="1.3" height="1.3"/><rect x="312.85" y="171.9" width="1.3" height="1.3"/><rect x="312.85" y="176.25" width="1.3" height="1.3"/><rect x="312.85" y="180.6" width="1.3" height="1.3"/><rect x="312.85" y="184.95" width="1.3" height="1.3"/><rect x="312.85" y="189.3" width="1.3" height="1.3"/><rect x="312.85" y="193.65" width="1.3" height="1.3"/><rect x="312.85" y="198" width="1.3" height="1.3"/></g><rect x="305.1" y="88.1" width="10.3" height="111.5" fill="none" stroke="#171213" stroke-width="1.3"/><rect x="340" y="88" width="88" height="111.5" fill="#fbfbfd"/><rect x="340" y="88.5" width="12" height="110" fill="#a29c9a"/><path d="M344.8 88.5V198.5" stroke="#e6e2e2" stroke-width="1.2" opacity="1"/><path d="M340.6 88.5V198.5" stroke="#4a4244" stroke-width="1.0" opacity="1"/><path d="M351.4 88.5V198.5" stroke="#4a4244" stroke-width="1.0" opacity="1"/><rect x="416" y="88.5" width="12" height="110" fill="#a29c9a"/><path d="M423.2 88.5V198.5" stroke="#e6e2e2" stroke-width="1.2" opacity="1"/><path d="M416.6 88.5V198.5" stroke="#4a4244" stroke-width="1.0" opacity="1"/><path d="M427.4 88.5V198.5" stroke="#4a4244" stroke-width="1.0" opacity="1"/><rect x="352" y="88.5" width="64" height="8" fill="#a29c9a"/><path d="M352 91H416" stroke="#e6e2e2" stroke-width="1.2" opacity="1"/><path d="M352 96H416" stroke="#4a4244" stroke-width="1.0" opacity="1"/><rect x="352" y="190.5" width="64" height="8" fill="#a29c9a"/><path d="M352 196H416" stroke="#e6e2e2" stroke-width="1.2" opacity="1"/><path d="M352 191H416" stroke="#4a4244" stroke-width="1.0" opacity="1"/><rect x="340" y="88.5" width="12" height="8" fill="#2e2628"/><path d="M340 91.7H352" stroke="#a29a9a" stroke-width="0.9" opacity="1"/><path d="M345 88.5V96.5" stroke="#a29a9a" stroke-width="0.9" opacity="1"/><rect x="416" y="88.5" width="12" height="8" fill="#2e2628"/><path d="M416 91.7H428" stroke="#a29a9a" stroke-width="0.9" opacity="1"/><path d="M423 88.5V96.5" stroke="#a29a9a" stroke-width="0.9" opacity="1"/><rect x="340" y="190.5" width="12" height="8" fill="#2e2628"/><path d="M340 195.7H352" stroke="#a29a9a" stroke-width="0.9" opacity="1"/><path d="M345 190.5V198.5" stroke="#a29a9a" stroke-width="0.9" opacity="1"/><rect x="416" y="190.5" width="12" height="8" fill="#2e2628"/><path d="M416 195.7H428" stroke="#a29a9a" stroke-width="0.9" opacity="1"/><path d="M423 190.5V198.5" stroke="#a29a9a" stroke-width="0.9" opacity="1"/><path d="M340 88.3Q340.82 86.7 341.65 88.3T343.3 88.3Q344.12 86.7 344.95 88.3T346.6 88.3Q347.43 86.7 348.25 88.3T349.9 88.3Q350.73 86.7 351.55 88.3T353.2 88.3Q354.03 86.7 354.85 88.3T356.5 88.3Q357.33 86.7 358.15 88.3T359.8 88.3Q360.63 86.7 361.45 88.3T363.1 88.3Q363.93 86.7 364.75 88.3T366.4 88.3Q367.23 86.7 368.05 88.3T369.7 88.3Q370.53 86.7 371.35 88.3T373 88.3Q373.83 86.7 374.65 88.3T376.3 88.3Q377.13 86.7 377.95 88.3T379.6 88.3Q380.43 86.7 381.25 88.3T382.9 88.3Q383.73 86.7 384.55 88.3T386.2 88.3Q387.03 86.7 387.85 88.3T389.5 88.3Q390.33 86.7 391.15 88.3T392.8 88.3Q393.63 86.7 394.45 88.3T396.1 88.3Q396.93 86.7 397.75 88.3T399.4 88.3Q400.23 86.7 401.05 88.3T402.7 88.3Q403.53 86.7 404.35 88.3T406 88.3Q406.83 86.7 407.65 88.3T409.3 88.3Q410.13 86.7 410.95 88.3T412.6 88.3Q413.43 86.7 414.25 88.3T415.9 88.3Q416.73 86.7 417.55 88.3T419.2 88.3Q420.03 86.7 420.85 88.3T422.5 88.3Q423.33 86.7 424.15 88.3T425.8 88.3" stroke="#1a1516" stroke-width="1.5" fill="none"/><path d="M340 198.8Q340.82 200.4 341.65 198.8T343.3 198.8Q344.12 200.4 344.95 198.8T346.6 198.8Q347.43 200.4 348.25 198.8T349.9 198.8Q350.73 200.4 351.55 198.8T353.2 198.8Q354.03 200.4 354.85 198.8T356.5 198.8Q357.33 200.4 358.15 198.8T359.8 198.8Q360.63 200.4 361.45 198.8T363.1 198.8Q363.93 200.4 364.75 198.8T366.4 198.8Q367.23 200.4 368.05 198.8T369.7 198.8Q370.53 200.4 371.35 198.8T373 198.8Q373.83 200.4 374.65 198.8T376.3 198.8Q377.13 200.4 377.95 198.8T379.6 198.8Q380.43 200.4 381.25 198.8T382.9 198.8Q383.73 200.4 384.55 198.8T386.2 198.8Q387.03 200.4 387.85 198.8T389.5 198.8Q390.33 200.4 391.15 198.8T392.8 198.8Q393.63 200.4 394.45 198.8T396.1 198.8Q396.93 200.4 397.75 198.8T399.4 198.8Q400.23 200.4 401.05 198.8T402.7 198.8Q403.53 200.4 404.35 198.8T406 198.8Q406.83 200.4 407.65 198.8T409.3 198.8Q410.13 200.4 410.95 198.8T412.6 198.8Q413.43 200.4 414.25 198.8T415.9 198.8Q416.73 200.4 417.55 198.8T419.2 198.8Q420.03 200.4 420.85 198.8T422.5 198.8Q423.33 200.4 424.15 198.8T425.8 198.8" stroke="#1a1516" stroke-width="1.5" fill="none"/><rect x="485.5" y="90.5" width="28" height="112.5" fill="#fbfbfd"/><rect x="495.8" y="90.5" width="6.8" height="112.5" fill="#a29c9a"/><path d="M496.4 90.5V203" stroke="#4a4244" stroke-width="1.0" opacity="1"/><path d="M502 90.5V203" stroke="#4a4244" stroke-width="1.0" opacity="1"/><rect x="485.5" y="90.5" width="28" height="17.5" fill="#8f8989"/><path d="M485.5 97.3H513.5" stroke="#e6e2e2" stroke-width="1.2" opacity="1"/><path d="M485.5 101.9H513.5" stroke="#e6e2e2" stroke-width="1.2" opacity="1"/><path d="M485.5 91.1H513.5" stroke="#4a4244" stroke-width="1.0" opacity="1"/><path d="M485.5 100H513.5" stroke="#4a4244" stroke-width="1.0" opacity="1"/><path d="M485.5 107.5H513.5" stroke="#4a4244" stroke-width="1.0" opacity="1"/><path d="M502.5 108 C503 102 504.5 98.8 509 98.6 L513 98.6 L513 108 Z" fill="#fbfbfd"/><path d="M502.5 108 C503 102 504.5 98.8 509 98.6 L513 98.6" fill="none" stroke="#171213" stroke-width="1.2"/><rect x="485.5" y="195.5" width="28" height="8" fill="#8f8989"/><path d="M485.5 198.3H513.5" stroke="#e6e2e2" stroke-width="1.2" opacity="1"/><path d="M485.5 201.1H513.5" stroke="#e6e2e2" stroke-width="1.2" opacity="1"/><path d="M485.5 196.1H513.5" stroke="#4a4244" stroke-width="1.0" opacity="1"/><path d="M485.5 199.7H513.5" stroke="#4a4244" stroke-width="1.0" opacity="1"/><path d="M485.5 202.9H513.5" stroke="#4a4244" stroke-width="1.0" opacity="1"/><rect x="495.8" y="90.5" width="6.8" height="17.5" fill="#2e2628" opacity="0.6"/><rect x="495.8" y="195.5" width="6.8" height="8" fill="#2e2628" opacity="0.6"/><rect x="486.1" y="91" width="26.8" height="111.8" fill="none" stroke="#2e292a" stroke-width="1.4"/><rect x="548.5" y="89" width="28" height="113" fill="#fbfbfd"/><rect x="548.5" y="89" width="27.5" height="17.5" fill="#2a2224"/><path d="M550.9 90V105.5M555.25 90V105.5M559.6 90V105.5M563.95 90V105.5M568.3 90V105.5M572.65 90V105.5" stroke="#a8a0a0" stroke-width="1.0" fill="none" opacity="0.45"/><path d="M549.5 91.4H575M549.5 95.75H575M549.5 100.1H575M549.5 104.45H575" stroke="#a8a0a0" stroke-width="1.0" fill="none" opacity="0.62"/><g fill="#c4bcbc"><rect x="550.25" y="90.75" width="1.3" height="1.3"/><rect x="550.25" y="95.1" width="1.3" height="1.3"/><rect x="550.25" y="99.45" width="1.3" height="1.3"/><rect x="550.25" y="103.8" width="1.3" height="1.3"/><rect x="554.6" y="90.75" width="1.3" height="1.3"/><rect x="554.6" y="95.1" width="1.3" height="1.3"/><rect x="554.6" y="99.45" width="1.3" height="1.3"/><rect x="554.6" y="103.8" width="1.3" height="1.3"/><rect x="558.95" y="90.75" width="1.3" height="1.3"/><rect x="558.95" y="95.1" width="1.3" height="1.3"/><rect x="558.95" y="99.45" width="1.3" height="1.3"/><rect x="558.95" y="103.8" width="1.3" height="1.3"/><rect x="563.3" y="90.75" width="1.3" height="1.3"/><rect x="563.3" y="95.1" width="1.3" height="1.3"/><rect x="563.3" y="99.45" width="1.3" height="1.3"/><rect x="563.3" y="103.8" width="1.3" height="1.3"/><rect x="567.65" y="90.75" width="1.3" height="1.3"/><rect x="567.65" y="95.1" width="1.3" height="1.3"/><rect x="567.65" y="99.45" width="1.3" height="1.3"/><rect x="567.65" y="103.8" width="1.3" height="1.3"/><rect x="572" y="90.75" width="1.3" height="1.3"/><rect x="572" y="95.1" width="1.3" height="1.3"/><rect x="572" y="99.45" width="1.3" height="1.3"/><rect x="572" y="103.8" width="1.3" height="1.3"/></g><rect x="549.1" y="89.6" width="26.3" height="16.3" fill="none" stroke="#171213" stroke-width="1.3"/><rect x="557.5" y="89" width="9.8" height="113" fill="#2a2224"/><path d="M559.9 90V201M562.4 90V201M564.8 90V201" stroke="#a8a0a0" stroke-width="1.0" fill="none" opacity="0.55"/><path d="M558.5 91.4H566.3M558.5 95.75H566.3M558.5 100.1H566.3M558.5 104.45H566.3M558.5 108.8H566.3M558.5 113.15H566.3M558.5 117.5H566.3M558.5 121.85H566.3M558.5 126.2H566.3M558.5 130.55H566.3M558.5 134.9H566.3M558.5 139.25H566.3M558.5 143.6H566.3M558.5 147.95H566.3M558.5 152.3H566.3M558.5 156.65H566.3M558.5 161H566.3M558.5 165.35H566.3M558.5 169.7H566.3M558.5 174.05H566.3M558.5 178.4H566.3M558.5 182.75H566.3M558.5 187.1H566.3M558.5 191.45H566.3M558.5 195.8H566.3M558.5 200.15H566.3" stroke="#a8a0a0" stroke-width="1.0" fill="none" opacity="0.5"/><g fill="#c4bcbc"><rect x="559.25" y="90.75" width="1.3" height="1.3"/><rect x="559.25" y="95.1" width="1.3" height="1.3"/><rect x="559.25" y="99.45" width="1.3" height="1.3"/><rect x="559.25" y="103.8" width="1.3" height="1.3"/><rect x="559.25" y="108.15" width="1.3" height="1.3"/><rect x="559.25" y="112.5" width="1.3" height="1.3"/><rect x="559.25" y="116.85" width="1.3" height="1.3"/><rect x="559.25" y="121.2" width="1.3" height="1.3"/><rect x="559.25" y="125.55" width="1.3" height="1.3"/><rect x="559.25" y="129.9" width="1.3" height="1.3"/><rect x="559.25" y="134.25" width="1.3" height="1.3"/><rect x="559.25" y="138.6" width="1.3" height="1.3"/><rect x="559.25" y="142.95" width="1.3" height="1.3"/><rect x="559.25" y="147.3" width="1.3" height="1.3"/><rect x="559.25" y="151.65" width="1.3" height="1.3"/><rect x="559.25" y="156" width="1.3" height="1.3"/><rect x="559.25" y="160.35" width="1.3" height="1.3"/><rect x="559.25" y="164.7" width="1.3" height="1.3"/><rect x="559.25" y="169.05" width="1.3" height="1.3"/><rect x="559.25" y="173.4" width="1.3" height="1.3"/><rect x="559.25" y="177.75" width="1.3" height="1.3"/><rect x="559.25" y="182.1" width="1.3" height="1.3"/><rect x="559.25" y="186.45" width="1.3" height="1.3"/><rect x="559.25" y="190.8" width="1.3" height="1.3"/><rect x="559.25" y="195.15" width="1.3" height="1.3"/><rect x="559.25" y="199.5" width="1.3" height="1.3"/><rect x="561.75" y="90.75" width="1.3" height="1.3"/><rect x="561.75" y="95.1" width="1.3" height="1.3"/><rect x="561.75" y="99.45" width="1.3" height="1.3"/><rect x="561.75" y="103.8" width="1.3" height="1.3"/><rect x="561.75" y="108.15" width="1.3" height="1.3"/><rect x="561.75" y="112.5" width="1.3" height="1.3"/><rect x="561.75" y="116.85" width="1.3" height="1.3"/><rect x="561.75" y="121.2" width="1.3" height="1.3"/><rect x="561.75" y="125.55" width="1.3" height="1.3"/><rect x="561.75" y="129.9" width="1.3" height="1.3"/><rect x="561.75" y="134.25" width="1.3" height="1.3"/><rect x="561.75" y="138.6" width="1.3" height="1.3"/><rect x="561.75" y="142.95" width="1.3" height="1.3"/><rect x="561.75" y="147.3" width="1.3" height="1.3"/><rect x="561.75" y="151.65" width="1.3" height="1.3"/><rect x="561.75" y="156" width="1.3" height="1.3"/><rect x="561.75" y="160.35" width="1.3" height="1.3"/><rect x="561.75" y="164.7" width="1.3" height="1.3"/><rect x="561.75" y="169.05" width="1.3" height="1.3"/><rect x="561.75" y="173.4" width="1.3" height="1.3"/><rect x="561.75" y="177.75" width="1.3" height="1.3"/><rect x="561.75" y="182.1" width="1.3" height="1.3"/><rect x="561.75" y="186.45" width="1.3" height="1.3"/><rect x="561.75" y="190.8" width="1.3" height="1.3"/><rect x="561.75" y="195.15" width="1.3" height="1.3"/><rect x="561.75" y="199.5" width="1.3" height="1.3"/><rect x="564.15" y="90.75" width="1.3" height="1.3"/><rect x="564.15" y="95.1" width="1.3" height="1.3"/><rect x="564.15" y="99.45" width="1.3" height="1.3"/><rect x="564.15" y="103.8" width="1.3" height="1.3"/><rect x="564.15" y="108.15" width="1.3" height="1.3"/><rect x="564.15" y="112.5" width="1.3" height="1.3"/><rect x="564.15" y="116.85" width="1.3" height="1.3"/><rect x="564.15" y="121.2" width="1.3" height="1.3"/><rect x="564.15" y="125.55" width="1.3" height="1.3"/><rect x="564.15" y="129.9" width="1.3" height="1.3"/><rect x="564.15" y="134.25" width="1.3" height="1.3"/><rect x="564.15" y="138.6" width="1.3" height="1.3"/><rect x="564.15" y="142.95" width="1.3" height="1.3"/><rect x="564.15" y="147.3" width="1.3" height="1.3"/><rect x="564.15" y="151.65" width="1.3" height="1.3"/><rect x="564.15" y="156" width="1.3" height="1.3"/><rect x="564.15" y="160.35" width="1.3" height="1.3"/><rect x="564.15" y="164.7" width="1.3" height="1.3"/><rect x="564.15" y="169.05" width="1.3" height="1.3"/><rect x="564.15" y="173.4" width="1.3" height="1.3"/><rect x="564.15" y="177.75" width="1.3" height="1.3"/><rect x="564.15" y="182.1" width="1.3" height="1.3"/><rect x="564.15" y="186.45" width="1.3" height="1.3"/><rect x="564.15" y="190.8" width="1.3" height="1.3"/><rect x="564.15" y="195.15" width="1.3" height="1.3"/><rect x="564.15" y="199.5" width="1.3" height="1.3"/></g><rect x="558.1" y="89.6" width="8.6" height="111.8" fill="none" stroke="#171213" stroke-width="1.3"/><rect x="548.5" y="194" width="27.5" height="8.2" fill="#2a2224"/><path d="M550.9 195V201.2M555.25 195V201.2M559.6 195V201.2M563.95 195V201.2M568.3 195V201.2M572.65 195V201.2" stroke="#a8a0a0" stroke-width="1.0" fill="none" opacity="0.45"/><path d="M549.5 196.4H575M549.5 199.7H575" stroke="#a8a0a0" stroke-width="1.0" fill="none" opacity="0.62"/><g fill="#c4bcbc"><rect x="550.25" y="195.75" width="1.3" height="1.3"/><rect x="550.25" y="199.05" width="1.3" height="1.3"/><rect x="554.6" y="195.75" width="1.3" height="1.3"/><rect x="554.6" y="199.05" width="1.3" height="1.3"/><rect x="558.95" y="195.75" width="1.3" height="1.3"/><rect x="558.95" y="199.05" width="1.3" height="1.3"/><rect x="563.3" y="195.75" width="1.3" height="1.3"/><rect x="563.3" y="199.05" width="1.3" height="1.3"/><rect x="567.65" y="195.75" width="1.3" height="1.3"/><rect x="567.65" y="199.05" width="1.3" height="1.3"/><rect x="572" y="195.75" width="1.3" height="1.3"/><rect x="572" y="199.05" width="1.3" height="1.3"/></g><rect x="549.1" y="194.6" width="26.3" height="7" fill="none" stroke="#171213" stroke-width="1.3"/><path d="M567.3 107.5 C567.3 100 569 97.5 572 97.5 L575.3 97.5 L575.3 107.5 Z" fill="#fbfbfd"/><path d="M567.3 106.5 C567.3 100 569 97.5 572 97.5 L575.3 97.5" fill="none" stroke="#171213" stroke-width="1.2"/><rect x="549.2" y="89.6" width="26.2" height="111.8" fill="none" stroke="#171213" stroke-width="1.4"/><rect x="14.5" y="238" width="88.5" height="131.5" fill="#fbfbfd"/><rect x="15.2" y="238.6" width="87.3" height="130.3" fill="none" stroke="#171213" stroke-width="1.4"/><rect x="14.5" y="238" width="88.5" height="10" fill="#2a2224"/><path d="M16.9 239V247M21.25 239V247M25.6 239V247M29.95 239V247M34.3 239V247M38.65 239V247M43 239V247M47.35 239V247M51.7 239V247M56.05 239V247M60.4 239V247M64.75 239V247M69.1 239V247M73.45 239V247M77.8 239V247M82.15 239V247M86.5 239V247M90.85 239V247M95.2 239V247M99.55 239V247" stroke="#a8a0a0" stroke-width="1.0" fill="none" opacity="0.45"/><path d="M15.5 240.4H102M15.5 245.5H102" stroke="#a8a0a0" stroke-width="1.0" fill="none" opacity="0.62"/><g fill="#c4bcbc"><rect x="16.25" y="239.75" width="1.3" height="1.3"/><rect x="16.25" y="244.85" width="1.3" height="1.3"/><rect x="20.6" y="239.75" width="1.3" height="1.3"/><rect x="20.6" y="244.85" width="1.3" height="1.3"/><rect x="24.95" y="239.75" width="1.3" height="1.3"/><rect x="24.95" y="244.85" width="1.3" height="1.3"/><rect x="29.3" y="239.75" width="1.3" height="1.3"/><rect x="29.3" y="244.85" width="1.3" height="1.3"/><rect x="33.65" y="239.75" width="1.3" height="1.3"/><rect x="33.65" y="244.85" width="1.3" height="1.3"/><rect x="38" y="239.75" width="1.3" height="1.3"/><rect x="38" y="244.85" width="1.3" height="1.3"/><rect x="42.35" y="239.75" width="1.3" height="1.3"/><rect x="42.35" y="244.85" width="1.3" height="1.3"/><rect x="46.7" y="239.75" width="1.3" height="1.3"/><rect x="46.7" y="244.85" width="1.3" height="1.3"/><rect x="51.05" y="239.75" width="1.3" height="1.3"/><rect x="51.05" y="244.85" width="1.3" height="1.3"/><rect x="55.4" y="239.75" width="1.3" height="1.3"/><rect x="55.4" y="244.85" width="1.3" height="1.3"/><rect x="59.75" y="239.75" width="1.3" height="1.3"/><rect x="59.75" y="244.85" width="1.3" height="1.3"/><rect x="64.1" y="239.75" width="1.3" height="1.3"/><rect x="64.1" y="244.85" width="1.3" height="1.3"/><rect x="68.45" y="239.75" width="1.3" height="1.3"/><rect x="68.45" y="244.85" width="1.3" height="1.3"/><rect x="72.8" y="239.75" width="1.3" height="1.3"/><rect x="72.8" y="244.85" width="1.3" height="1.3"/><rect x="77.15" y="239.75" width="1.3" height="1.3"/><rect x="77.15" y="244.85" width="1.3" height="1.3"/><rect x="81.5" y="239.75" width="1.3" height="1.3"/><rect x="81.5" y="244.85" width="1.3" height="1.3"/><rect x="85.85" y="239.75" width="1.3" height="1.3"/><rect x="85.85" y="244.85" width="1.3" height="1.3"/><rect x="90.2" y="239.75" width="1.3" height="1.3"/><rect x="90.2" y="244.85" width="1.3" height="1.3"/><rect x="94.55" y="239.75" width="1.3" height="1.3"/><rect x="94.55" y="244.85" width="1.3" height="1.3"/><rect x="98.9" y="239.75" width="1.3" height="1.3"/><rect x="98.9" y="244.85" width="1.3" height="1.3"/></g><rect x="15.1" y="238.6" width="87.3" height="8.8" fill="none" stroke="#171213" stroke-width="1.3"/><rect x="14.5" y="360.5" width="88.5" height="9" fill="#2a2224"/><path d="M16.9 361.5V368.5M21.25 361.5V368.5M25.6 361.5V368.5M29.95 361.5V368.5M34.3 361.5V368.5M38.65 361.5V368.5M43 361.5V368.5M47.35 361.5V368.5M51.7 361.5V368.5M56.05 361.5V368.5M60.4 361.5V368.5M64.75 361.5V368.5M69.1 361.5V368.5M73.45 361.5V368.5M77.8 361.5V368.5M82.15 361.5V368.5M86.5 361.5V368.5M90.85 361.5V368.5M95.2 361.5V368.5M99.55 361.5V368.5" stroke="#a8a0a0" stroke-width="1.0" fill="none" opacity="0.45"/><path d="M15.5 362.9H102M15.5 367H102" stroke="#a8a0a0" stroke-width="1.0" fill="none" opacity="0.62"/><g fill="#c4bcbc"><rect x="16.25" y="362.25" width="1.3" height="1.3"/><rect x="16.25" y="366.35" width="1.3" height="1.3"/><rect x="20.6" y="362.25" width="1.3" height="1.3"/><rect x="20.6" y="366.35" width="1.3" height="1.3"/><rect x="24.95" y="362.25" width="1.3" height="1.3"/><rect x="24.95" y="366.35" width="1.3" height="1.3"/><rect x="29.3" y="362.25" width="1.3" height="1.3"/><rect x="29.3" y="366.35" width="1.3" height="1.3"/><rect x="33.65" y="362.25" width="1.3" height="1.3"/><rect x="33.65" y="366.35" width="1.3" height="1.3"/><rect x="38" y="362.25" width="1.3" height="1.3"/><rect x="38" y="366.35" width="1.3" height="1.3"/><rect x="42.35" y="362.25" width="1.3" height="1.3"/><rect x="42.35" y="366.35" width="1.3" height="1.3"/><rect x="46.7" y="362.25" width="1.3" height="1.3"/><rect x="46.7" y="366.35" width="1.3" height="1.3"/><rect x="51.05" y="362.25" width="1.3" height="1.3"/><rect x="51.05" y="366.35" width="1.3" height="1.3"/><rect x="55.4" y="362.25" width="1.3" height="1.3"/><rect x="55.4" y="366.35" width="1.3" height="1.3"/><rect x="59.75" y="362.25" width="1.3" height="1.3"/><rect x="59.75" y="366.35" width="1.3" height="1.3"/><rect x="64.1" y="362.25" width="1.3" height="1.3"/><rect x="64.1" y="366.35" width="1.3" height="1.3"/><rect x="68.45" y="362.25" width="1.3" height="1.3"/><rect x="68.45" y="366.35" width="1.3" height="1.3"/><rect x="72.8" y="362.25" width="1.3" height="1.3"/><rect x="72.8" y="366.35" width="1.3" height="1.3"/><rect x="77.15" y="362.25" width="1.3" height="1.3"/><rect x="77.15" y="366.35" width="1.3" height="1.3"/><rect x="81.5" y="362.25" width="1.3" height="1.3"/><rect x="81.5" y="366.35" width="1.3" height="1.3"/><rect x="85.85" y="362.25" width="1.3" height="1.3"/><rect x="85.85" y="366.35" width="1.3" height="1.3"/><rect x="90.2" y="362.25" width="1.3" height="1.3"/><rect x="90.2" y="366.35" width="1.3" height="1.3"/><rect x="94.55" y="362.25" width="1.3" height="1.3"/><rect x="94.55" y="366.35" width="1.3" height="1.3"/><rect x="98.9" y="362.25" width="1.3" height="1.3"/><rect x="98.9" y="366.35" width="1.3" height="1.3"/></g><rect x="15.1" y="361.1" width="87.3" height="7.8" fill="none" stroke="#171213" stroke-width="1.3"/><rect x="52.8" y="238" width="11.2" height="131.5" fill="#2a2224"/><path d="M55.2 239V368.5M58.4 239V368.5M61.5 239V368.5" stroke="#a8a0a0" stroke-width="1.0" fill="none" opacity="0.55"/><path d="M53.8 240.4H63M53.8 244.75H63M53.8 249.1H63M53.8 253.45H63M53.8 257.8H63M53.8 262.15H63M53.8 266.5H63M53.8 270.85H63M53.8 275.2H63M53.8 279.55H63M53.8 283.9H63M53.8 288.25H63M53.8 292.6H63M53.8 296.95H63M53.8 301.3H63M53.8 305.65H63M53.8 310H63M53.8 314.35H63M53.8 318.7H63M53.8 323.05H63M53.8 327.4H63M53.8 331.75H63M53.8 336.1H63M53.8 340.45H63M53.8 344.8H63M53.8 349.15H63M53.8 353.5H63M53.8 357.85H63M53.8 362.2H63M53.8 366.55H63" stroke="#a8a0a0" stroke-width="1.0" fill="none" opacity="0.5"/><g fill="#c4bcbc"><rect x="54.55" y="239.75" width="1.3" height="1.3"/><rect x="54.55" y="244.1" width="1.3" height="1.3"/><rect x="54.55" y="248.45" width="1.3" height="1.3"/><rect x="54.55" y="252.8" width="1.3" height="1.3"/><rect x="54.55" y="257.15" width="1.3" height="1.3"/><rect x="54.55" y="261.5" width="1.3" height="1.3"/><rect x="54.55" y="265.85" width="1.3" height="1.3"/><rect x="54.55" y="270.2" width="1.3" height="1.3"/><rect x="54.55" y="274.55" width="1.3" height="1.3"/><rect x="54.55" y="278.9" width="1.3" height="1.3"/><rect x="54.55" y="283.25" width="1.3" height="1.3"/><rect x="54.55" y="287.6" width="1.3" height="1.3"/><rect x="54.55" y="291.95" width="1.3" height="1.3"/><rect x="54.55" y="296.3" width="1.3" height="1.3"/><rect x="54.55" y="300.65" width="1.3" height="1.3"/><rect x="54.55" y="305" width="1.3" height="1.3"/><rect x="54.55" y="309.35" width="1.3" height="1.3"/><rect x="54.55" y="313.7" width="1.3" height="1.3"/><rect x="54.55" y="318.05" width="1.3" height="1.3"/><rect x="54.55" y="322.4" width="1.3" height="1.3"/><rect x="54.55" y="326.75" width="1.3" height="1.3"/><rect x="54.55" y="331.1" width="1.3" height="1.3"/><rect x="54.55" y="335.45" width="1.3" height="1.3"/><rect x="54.55" y="339.8" width="1.3" height="1.3"/><rect x="54.55" y="344.15" width="1.3" height="1.3"/><rect x="54.55" y="348.5" width="1.3" height="1.3"/><rect x="54.55" y="352.85" width="1.3" height="1.3"/><rect x="54.55" y="357.2" width="1.3" height="1.3"/><rect x="54.55" y="361.55" width="1.3" height="1.3"/><rect x="54.55" y="365.9" width="1.3" height="1.3"/><rect x="57.75" y="239.75" width="1.3" height="1.3"/><rect x="57.75" y="244.1" width="1.3" height="1.3"/><rect x="57.75" y="248.45" width="1.3" height="1.3"/><rect x="57.75" y="252.8" width="1.3" height="1.3"/><rect x="57.75" y="257.15" width="1.3" height="1.3"/><rect x="57.75" y="261.5" width="1.3" height="1.3"/><rect x="57.75" y="265.85" width="1.3" height="1.3"/><rect x="57.75" y="270.2" width="1.3" height="1.3"/><rect x="57.75" y="274.55" width="1.3" height="1.3"/><rect x="57.75" y="278.9" width="1.3" height="1.3"/><rect x="57.75" y="283.25" width="1.3" height="1.3"/><rect x="57.75" y="287.6" width="1.3" height="1.3"/><rect x="57.75" y="291.95" width="1.3" height="1.3"/><rect x="57.75" y="296.3" width="1.3" height="1.3"/><rect x="57.75" y="300.65" width="1.3" height="1.3"/><rect x="57.75" y="305" width="1.3" height="1.3"/><rect x="57.75" y="309.35" width="1.3" height="1.3"/><rect x="57.75" y="313.7" width="1.3" height="1.3"/><rect x="57.75" y="318.05" width="1.3" height="1.3"/><rect x="57.75" y="322.4" width="1.3" height="1.3"/><rect x="57.75" y="326.75" width="1.3" height="1.3"/><rect x="57.75" y="331.1" width="1.3" height="1.3"/><rect x="57.75" y="335.45" width="1.3" height="1.3"/><rect x="57.75" y="339.8" width="1.3" height="1.3"/><rect x="57.75" y="344.15" width="1.3" height="1.3"/><rect x="57.75" y="348.5" width="1.3" height="1.3"/><rect x="57.75" y="352.85" width="1.3" height="1.3"/><rect x="57.75" y="357.2" width="1.3" height="1.3"/><rect x="57.75" y="361.55" width="1.3" height="1.3"/><rect x="57.75" y="365.9" width="1.3" height="1.3"/><rect x="60.85" y="239.75" width="1.3" height="1.3"/><rect x="60.85" y="244.1" width="1.3" height="1.3"/><rect x="60.85" y="248.45" width="1.3" height="1.3"/><rect x="60.85" y="252.8" width="1.3" height="1.3"/><rect x="60.85" y="257.15" width="1.3" height="1.3"/><rect x="60.85" y="261.5" width="1.3" height="1.3"/><rect x="60.85" y="265.85" width="1.3" height="1.3"/><rect x="60.85" y="270.2" width="1.3" height="1.3"/><rect x="60.85" y="274.55" width="1.3" height="1.3"/><rect x="60.85" y="278.9" width="1.3" height="1.3"/><rect x="60.85" y="283.25" width="1.3" height="1.3"/><rect x="60.85" y="287.6" width="1.3" height="1.3"/><rect x="60.85" y="291.95" width="1.3" height="1.3"/><rect x="60.85" y="296.3" width="1.3" height="1.3"/><rect x="60.85" y="300.65" width="1.3" height="1.3"/><rect x="60.85" y="305" width="1.3" height="1.3"/><rect x="60.85" y="309.35" width="1.3" height="1.3"/><rect x="60.85" y="313.7" width="1.3" height="1.3"/><rect x="60.85" y="318.05" width="1.3" height="1.3"/><rect x="60.85" y="322.4" width="1.3" height="1.3"/><rect x="60.85" y="326.75" width="1.3" height="1.3"/><rect x="60.85" y="331.1" width="1.3" height="1.3"/><rect x="60.85" y="335.45" width="1.3" height="1.3"/><rect x="60.85" y="339.8" width="1.3" height="1.3"/><rect x="60.85" y="344.15" width="1.3" height="1.3"/><rect x="60.85" y="348.5" width="1.3" height="1.3"/><rect x="60.85" y="352.85" width="1.3" height="1.3"/><rect x="60.85" y="357.2" width="1.3" height="1.3"/><rect x="60.85" y="361.55" width="1.3" height="1.3"/><rect x="60.85" y="365.9" width="1.3" height="1.3"/></g><rect x="53.4" y="238.6" width="10" height="130.3" fill="none" stroke="#171213" stroke-width="1.3"/><rect x="120.5" y="239" width="88" height="131" fill="#fbfbfd"/><rect x="120.5" y="239.5" width="88" height="8.8" fill="#9d9795"/><path d="M120.5 243.3H208.5" stroke="#e6e2e2" stroke-width="1.2" opacity="1"/><rect x="120.5" y="360" width="88" height="9.5" fill="#9d9795"/><path d="M120.5 363.6H208.5" stroke="#e6e2e2" stroke-width="0.9" opacity="1"/><path d="M120.5 367.4H208.5" stroke="#e6e2e2" stroke-width="0.9" opacity="1"/><path d="M120.5 360.5H208.5" stroke="#4a4244" stroke-width="1.0" opacity="1"/><rect x="158.8" y="239.5" width="12.2" height="130" fill="#8f8989"/><path d="M166.1 239.5V369.5" stroke="#e6e2e2" stroke-width="1.2" opacity="1"/><path d="M159.8 239.5V369.5" stroke="#4a4244" stroke-width="1.0" opacity="1"/><path d="M164.5 239.5V369.5" stroke="#4a4244" stroke-width="1.0" opacity="1"/><path d="M170.2 239.5V369.5" stroke="#4a4244" stroke-width="1.0" opacity="1"/><rect x="158.8" y="239.5" width="12.2" height="8.8" fill="#2e2628" opacity="0.65"/><rect x="158.8" y="360" width="12.2" height="9.5" fill="#2e2628" opacity="0.65"/><path d="M121.2 239V370" stroke="#2e292a" stroke-width="1.4" opacity="1"/><path d="M208 239V370" stroke="#2e292a" stroke-width="1.4" opacity="1"/><path d="M120.5 239.3Q121.33 237.7 122.15 239.3T123.8 239.3Q124.62 237.7 125.45 239.3T127.1 239.3Q127.92 237.7 128.75 239.3T130.4 239.3Q131.22 237.7 132.05 239.3T133.7 239.3Q134.53 237.7 135.35 239.3T137 239.3Q137.83 237.7 138.65 239.3T140.3 239.3Q141.13 237.7 141.95 239.3T143.6 239.3Q144.43 237.7 145.25 239.3T146.9 239.3Q147.73 237.7 148.55 239.3T150.2 239.3Q151.03 237.7 151.85 239.3T153.5 239.3Q154.33 237.7 155.15 239.3T156.8 239.3Q157.63 237.7 158.45 239.3T160.1 239.3Q160.93 237.7 161.75 239.3T163.4 239.3Q164.23 237.7 165.05 239.3T166.7 239.3Q167.53 237.7 168.35 239.3T170 239.3Q170.83 237.7 171.65 239.3T173.3 239.3Q174.13 237.7 174.95 239.3T176.6 239.3Q177.43 237.7 178.25 239.3T179.9 239.3Q180.73 237.7 181.55 239.3T183.2 239.3Q184.03 237.7 184.85 239.3T186.5 239.3Q187.33 237.7 188.15 239.3T189.8 239.3Q190.63 237.7 191.45 239.3T193.1 239.3Q193.93 237.7 194.75 239.3T196.4 239.3Q197.23 237.7 198.05 239.3T199.7 239.3Q200.53 237.7 201.35 239.3T203 239.3Q203.83 237.7 204.65 239.3T206.3 239.3" stroke="#1a1516" stroke-width="1.5" fill="none"/><path d="M120.5 369.8Q121.33 371.4 122.15 369.8T123.8 369.8Q124.62 371.4 125.45 369.8T127.1 369.8Q127.92 371.4 128.75 369.8T130.4 369.8Q131.22 371.4 132.05 369.8T133.7 369.8Q134.53 371.4 135.35 369.8T137 369.8Q137.83 371.4 138.65 369.8T140.3 369.8Q141.13 371.4 141.95 369.8T143.6 369.8Q144.43 371.4 145.25 369.8T146.9 369.8Q147.73 371.4 148.55 369.8T150.2 369.8Q151.03 371.4 151.85 369.8T153.5 369.8Q154.33 371.4 155.15 369.8T156.8 369.8Q157.63 371.4 158.45 369.8T160.1 369.8Q160.93 371.4 161.75 369.8T163.4 369.8Q164.23 371.4 165.05 369.8T166.7 369.8Q167.53 371.4 168.35 369.8T170 369.8Q170.83 371.4 171.65 369.8T173.3 369.8Q174.13 371.4 174.95 369.8T176.6 369.8Q177.43 371.4 178.25 369.8T179.9 369.8Q180.73 371.4 181.55 369.8T183.2 369.8Q184.03 371.4 184.85 369.8T186.5 369.8Q187.33 371.4 188.15 369.8T189.8 369.8Q190.63 371.4 191.45 369.8T193.1 369.8Q193.93 371.4 194.75 369.8T196.4 369.8Q197.23 371.4 198.05 369.8T199.7 369.8Q200.53 371.4 201.35 369.8T203 369.8Q203.83 371.4 204.65 369.8T206.3 369.8" stroke="#1a1516" stroke-width="1.5" fill="none"/><path d="M230.7 228.5V370" stroke="#555" stroke-width="1.3"/><path d="M292.8 281V320" stroke="#555" stroke-width="1.3"/><path d="M232 369L293 282" stroke="#2e292a" stroke-width="1.1"/><path d="M232 231L293 320" stroke="#2e292a" stroke-width="1.1" stroke-dasharray="3 2.2"/><path d="M230.7 228.3L238.3 221.7L300.5 274.5L292.5 281Z" fill="#aca6a4"/><path d="M233.5 227.5L295 279" stroke="#ddd8d8" stroke-width="1.4"/><path d="M230.7 228.3L292.5 281" stroke="#171213" stroke-width="1.7"/><path d="M238.3 221.7L300.5 274.5L292.5 281M230.7 228.3L238.3 221.7" stroke="#171213" stroke-width="1.2" fill="none"/><path d="M240 225L297 273.5" stroke="#171213" stroke-width="1.3" stroke-dasharray="1.2 2.2" opacity="0.8"/><path d="M231 371L292 319.5L300.5 325.5L238 378Z" fill="#aca6a4"/><path d="M233.5 372L296 320.8" stroke="#ddd8d8" stroke-width="1.4"/><path d="M231 371L292 319.5" stroke="#171213" stroke-width="1.7"/><path d="M292 319.5L300.5 325.5L238 378L231 371" stroke="#171213" stroke-width="1.2" fill="none"/><path d="M239 374L297 325.5" stroke="#171213" stroke-width="1.3" stroke-dasharray="1.2 2.2" opacity="0.8"/><rect x="325" y="228.5" width="105" height="150" fill="#fbfbfd"/><rect x="325.5" y="229.8" width="104.5" height="23.1" fill="#9c9694"/><path d="M325.5 235.4H430" stroke="#e6e2e2" stroke-width="1.2" opacity="1"/><path d="M325.5 241.1H430" stroke="#e6e2e2" stroke-width="1.2" opacity="1"/><path d="M325.5 246.4H430" stroke="#e6e2e2" stroke-width="1.2" opacity="1"/><path d="M325.5 250.8H430" stroke="#e6e2e2" stroke-width="1.2" opacity="1"/><rect x="325.5" y="366.7" width="104.5" height="11.5" fill="#958f8d"/><path d="M325.5 371.3H430" stroke="#e6e2e2" stroke-width="1.2" opacity="1"/><path d="M325.5 375.5H430" stroke="#e6e2e2" stroke-width="1.2" opacity="1"/><path d="M325.5 367.3H430" stroke="#4a4244" stroke-width="1.0" opacity="1"/><rect x="372.8" y="229.5" width="11" height="149" fill="#8f8987"/><path d="M375.6 229.5V378.5" stroke="#e8e4e4" stroke-width="1.1" opacity="1"/><path d="M380.6 229.5V378.5" stroke="#e8e4e4" stroke-width="1.1" opacity="1"/><rect x="372.8" y="229.8" width="11" height="23.1" fill="#2e2628" opacity="0.35"/><rect x="372.8" y="366.7" width="11" height="11.5" fill="#2e2628" opacity="0.35"/><path d="M373.8 229.5V378.5" stroke="#171213" stroke-width="1.3" opacity="1"/><path d="M382.8 229.5V378.5" stroke="#171213" stroke-width="1.3" opacity="1"/><path d="M378.3 229.8V252.9" stroke="#3a3234" stroke-width="1.0" opacity="1"/><path d="M378.3 366.7V378.2" stroke="#3a3234" stroke-width="1.0" opacity="1"/><circle cx="377.8" cy="239.8" r="4.1" fill="#fbfbfd" stroke="#171213" stroke-width="1.5"/><path d="M326.1 228.5V379" stroke="#2e292a" stroke-width="1.3" opacity="1"/><path d="M429.6 228.5V379" stroke="#2e292a" stroke-width="1.3" opacity="1"/><path d="M325.5 229.2Q326.32 227.6 327.15 229.2T328.8 229.2Q329.62 227.6 330.45 229.2T332.1 229.2Q332.93 227.6 333.75 229.2T335.4 229.2Q336.23 227.6 337.05 229.2T338.7 229.2Q339.53 227.6 340.35 229.2T342 229.2Q342.83 227.6 343.65 229.2T345.3 229.2Q346.13 227.6 346.95 229.2T348.6 229.2Q349.43 227.6 350.25 229.2T351.9 229.2Q352.73 227.6 353.55 229.2T355.2 229.2Q356.03 227.6 356.85 229.2T358.5 229.2Q359.33 227.6 360.15 229.2T361.8 229.2Q362.63 227.6 363.45 229.2T365.1 229.2Q365.93 227.6 366.75 229.2T368.4 229.2Q369.23 227.6 370.05 229.2T371.7 229.2Q372.53 227.6 373.35 229.2T375 229.2Q375.83 227.6 376.65 229.2T378.3 229.2Q379.13 227.6 379.95 229.2T381.6 229.2Q382.43 227.6 383.25 229.2T384.9 229.2Q385.73 227.6 386.55 229.2T388.2 229.2Q389.03 227.6 389.85 229.2T391.5 229.2Q392.33 227.6 393.15 229.2T394.8 229.2Q395.63 227.6 396.45 229.2T398.1 229.2Q398.93 227.6 399.75 229.2T401.4 229.2Q402.23 227.6 403.05 229.2T404.7 229.2Q405.53 227.6 406.35 229.2T408 229.2Q408.83 227.6 409.65 229.2T411.3 229.2Q412.13 227.6 412.95 229.2T414.6 229.2Q415.43 227.6 416.25 229.2T417.9 229.2Q418.73 227.6 419.55 229.2T421.2 229.2Q422.03 227.6 422.85 229.2T424.5 229.2Q425.33 227.6 426.15 229.2T427.8 229.2" stroke="#1a1516" stroke-width="1.5" fill="none"/><path d="M325.5 378.4Q326.32 380 327.15 378.4T328.8 378.4Q329.62 380 330.45 378.4T332.1 378.4Q332.93 380 333.75 378.4T335.4 378.4Q336.23 380 337.05 378.4T338.7 378.4Q339.53 380 340.35 378.4T342 378.4Q342.83 380 343.65 378.4T345.3 378.4Q346.13 380 346.95 378.4T348.6 378.4Q349.43 380 350.25 378.4T351.9 378.4Q352.73 380 353.55 378.4T355.2 378.4Q356.03 380 356.85 378.4T358.5 378.4Q359.33 380 360.15 378.4T361.8 378.4Q362.63 380 363.45 378.4T365.1 378.4Q365.93 380 366.75 378.4T368.4 378.4Q369.23 380 370.05 378.4T371.7 378.4Q372.53 380 373.35 378.4T375 378.4Q375.83 380 376.65 378.4T378.3 378.4Q379.13 380 379.95 378.4T381.6 378.4Q382.43 380 383.25 378.4T384.9 378.4Q385.73 380 386.55 378.4T388.2 378.4Q389.03 380 389.85 378.4T391.5 378.4Q392.33 380 393.15 378.4T394.8 378.4Q395.63 380 396.45 378.4T398.1 378.4Q398.93 380 399.75 378.4T401.4 378.4Q402.23 380 403.05 378.4T404.7 378.4Q405.53 380 406.35 378.4T408 378.4Q408.83 380 409.65 378.4T411.3 378.4Q412.13 380 412.95 378.4T414.6 378.4Q415.43 380 416.25 378.4T417.9 378.4Q418.73 380 419.55 378.4T421.2 378.4Q422.03 380 422.85 378.4T424.5 378.4Q425.33 380 426.15 378.4T427.8 378.4" stroke="#1a1516" stroke-width="1.5" fill="none"/><rect x="475" y="228.5" width="104.5" height="150" fill="#fbfbfd"/><rect x="475.5" y="228.5" width="104" height="23.3" fill="#d2cdcb"/><rect x="475.5" y="366.8" width="104" height="12" fill="#d2cdcb"/><rect x="521" y="228.5" width="12.6" height="150" fill="#d6d1cf"/><rect x="475.5" y="233.2" width="104" height="4.8" fill="#8e8886"/><path d="M475.5 228.9H579.5" stroke="#4a4446" stroke-width="1.5" opacity="1"/><path d="M475.5 232.2H579.5" stroke="#5a5452" stroke-width="1.0" opacity="1"/><path d="M475.5 240H579.5" stroke="#7a7472" stroke-width="1.2" opacity="1"/><path d="M475.5 243.6H579.5" stroke="#8a8482" stroke-width="1.7" opacity="1"/><path d="M475.5 247.1H579.5" stroke="#5a5452" stroke-width="1.2" opacity="1"/><path d="M475.5 251.2H579.5" stroke="#171213" stroke-width="1.3" opacity="1"/><path d="M475.5 367.3H579.5" stroke="#171213" stroke-width="1.2" opacity="1"/><path d="M475.5 370H579.5" stroke="#7a7472" stroke-width="1.3" opacity="1"/><path d="M475.5 372.6H579.5" stroke="#7a7472" stroke-width="1.3" opacity="1"/><path d="M475.5 375.1H579.5" stroke="#7a7472" stroke-width="1.3" opacity="1"/><path d="M475.5 378.2H579.5" stroke="#171213" stroke-width="1.3" opacity="1"/><path d="M521.4 228.5V378.8" stroke="#3a3234" stroke-width="1.1" opacity="1"/><path d="M524.7 228.5V378.8" stroke="#3a3234" stroke-width="1.1" opacity="1"/><path d="M530 228.5V378.8" stroke="#3a3234" stroke-width="1.1" opacity="1"/><path d="M533.3 228.5V378.8" stroke="#3a3234" stroke-width="1.1" opacity="1"/><path d="M527.3 228.5V378.8" stroke="#9a9492" stroke-width="1.0" opacity="1"/><path d="M512 239.2 L523 239.2 C525 239.2 525.5 236 528 236 C530.5 236 531 239.2 533 239.2 L542 239.2 C544.5 239.2 544.5 243.8 542 243.8 L512 243.8 C509.5 243.8 509.5 239.2 512 239.2 Z" fill="#fbfbfd" stroke="#171213" stroke-width="1.3"/><rect x="475.6" y="229.1" width="103.4" height="149.2" fill="none" stroke="#171213" stroke-width="1.3"/></svg>
<svg class="fg" width="600" height="450" viewBox="0 0 600 450"><path d="M272 200 L302 170 L336 200 L324 200 L302 181 L284 200 Z" fill="#d6d9de" opacity="0.28"/><text x="233" y="275" font-family="Liberation Sans, sans-serif" font-size="34" fill="none" stroke="#d0d3d8" stroke-width="1.1" letter-spacing="-1" opacity="0.35">恒兴智能</text></svg>
<div class="t" style="left:13px;top:207px">网纹平三边封</div><div class="t" style="left:121px;top:207px">条纹平三边封</div><div class="t" style="left:238px;top:207px">网纹四边封</div><div class="t" style="left:352px;top:207px">条纹四边封</div><div class="t" style="left:484px;top:207px">小背封小撕裂口</div><div class="t" style="left:13px;top:387px">网纹平刀背封</div><div class="t" style="left:125px;top:387px">条纹花刀背封</div><div class="t" style="left:235px;top:387px">三角包</div><div class="t" style="left:314px;top:387px">花刀条纹冲圆孔背封</div><div class="t" style="left:451px;top:387px">花刀条纹冲蝴蝶孔背封</div>
</body></html>
